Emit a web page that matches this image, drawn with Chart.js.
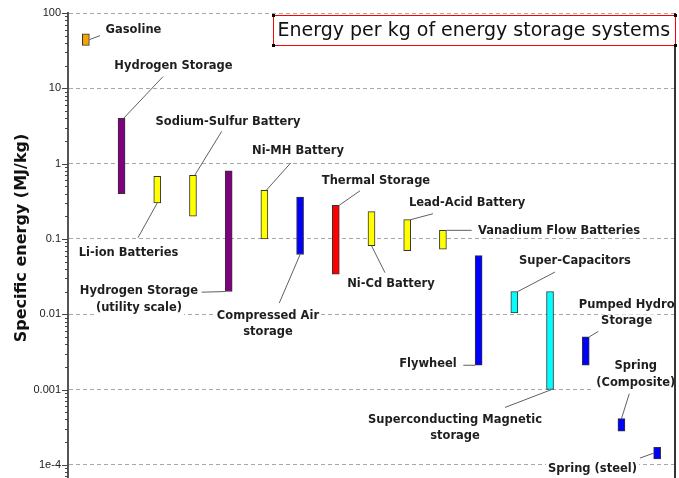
<!DOCTYPE html>
<html lang="en">

<head>
    <meta charset="UTF-8">
    <script src="https://cdn.jsdelivr.net/npm/chart.js"></script>
    <title>energia por kg</title>
    <style>
        body { margin: 0; background: #fff; }
        #grafico { width: 679px; height: 478px; }
    </style>
</head>

<body>
    <div id="grafico">
        <canvas id="myChartCanvas"></canvas>
    </div>
</body>

</html>

<script>
    // dados (MJ/kg)
    const categorias = ['Gasoline', 'Hydrogen Storage', 'Li-ion Batteries', 'Sodium-Sulfur Battery',
        'Hydrogen Storage (utility scale)', 'Ni-MH Battery', 'Compressed Air storage', 'Thermal Storage',
        'Ni-Cd Battery', 'Lead-Acid Battery', 'Vanadium Flow Batteries', 'Flywheel', 'Super-Capacitors',
        'Superconducting Magnetic storage', 'Pumped Hydro Storage', 'Spring (Composite)', 'Spring (steel)'];
    const minimos = [37, 0.4, 0.3, 0.2, 0.02, 0.1, 0.062, 0.034, 0.081, 0.07, 0.073, 0.0021, 0.0104, 0.001, 0.0021, 0.00028, 0.00012];
    const maximos = [53, 4, 0.68, 0.7, 0.8, 0.44, 0.36, 0.28, 0.23, 0.18, 0.13, 0.06, 0.02, 0.02, 0.005, 0.00041, 0.00017];
    const tickValores = [1e-4, 1e-3, 1e-2, 0.1, 1, 10, 100];
    const tickTextos = ['1e-4', '0.001', '0.01', '0.1', '1', '10', '100'];

    const cores = ['#f5a300', '#800080', '#ffff00', '#ffff00', '#800080', '#ffff00', '#0000ff', '#ff0000',
        '#ffff00', '#ffff00', '#ffff00', '#0000ff', '#00ffff', '#00ffff', '#0000ff', '#0000ff', '#0000ff'];

    // rótulos: posição em coordenadas do gráfico (índice da categoria, valor)
    const notas = [
        { texto: ['Gasoline'], pos: [1.334, 60], barra: 0, ponta: 'meio', lado: 1, fim: [0.396, 50] },
        { texto: ['Hydrogen Storage'], pos: [2.455, 19.5], barra: 1, ponta: 'max', lado: 0.6, fim: [2.161, 14.3] },
        { texto: ['Sodium-Sulfur Battery'], pos: [3.981, 3.6], barra: 3, ponta: 'max', lado: 0.5, fim: [3.805, 2.68] },
        { texto: ['Ni-MH Battery'], pos: [5.941, 1.45], barra: 5, ponta: 'max', lado: 0.5, fim: [5.737, 1.02] },
        { texto: ['Thermal Storage'], pos: [8.126, 0.593], barra: 7, ponta: 'max', lado: 1, fim: [7.678, 0.436] },
        { texto: ['Lead-Acid Battery'], pos: [10.675, 0.3], barra: 9, ponta: 'max', lado: 1, fim: [9.722, 0.216] },
        { texto: ['Vanadium Flow Batteries'], pos: [13.251, 0.1285], barra: 10, ponta: 'max', lado: 1, fim: [10.806, 0.13] },
        { texto: ['Li-ion Batteries'], pos: [1.194, 0.065], barra: 2, ponta: 'min', lado: 0, fim: [1.46, 0.1038] },
        { texto: ['Hydrogen Storage', '(utility scale)'], pos: [1.488, 0.0201], barra: 4, ponta: 'min', lado: -1, fim: [3.244, 0.0196] },
        { texto: ['Compressed Air', 'storage'], pos: [5.101, 0.00955], barra: 6, ponta: 'min', lado: 0, fim: [5.418, 0.0141] },
        { texto: ['Ni-Cd Battery'], pos: [8.546, 0.0252], barra: 8, ponta: 'min', lado: 0, fim: [8.378, 0.0356] },
        { texto: ['Super-Capacitors'], pos: [13.699, 0.0502], barra: 12, ponta: 'max', lado: 1, fim: [13.139, 0.0363] },
        { texto: ['Flywheel'], pos: [9.582, 0.00218], barra: 11, ponta: 'min', lado: -1, fim: [10.571, 0.0021] },
        { texto: ['Superconducting Magnetic', 'storage'], pos: [10.339, 0.000397], barra: 13, ponta: 'min', lado: 0.5, fim: [11.739, 0.000578] },
        { texto: ['Pumped Hydro', 'Storage'], pos: [15.147, 0.01337], barra: 14, ponta: 'max', lado: 1, fim: [14.352, 0.00591] },
        { texto: ['Spring', '(Composite)'], pos: [15.402, 0.00203], barra: 15, ponta: 'max', lado: 0, fim: [15.22, 0.000879] },
        { texto: ['Spring (steel)'], pos: [14.19, 0.0000879], barra: 16, ponta: 'meio', lado: -1, fim: [15.52, 0.000123] }
    ];

    const fonteRotulo = 'bold 11.5px "DejaVu Sans"';

    const pluginDesenhos = {
        id: 'desenhos',
        afterDraw(chart) {
            const ctx = chart.ctx;
            const area = chart.chartArea;
            const x = chart.scales.x;
            const y = chart.scales.y;
            const meta = chart.getDatasetMeta(0);

            ctx.save();

            // marcas do eixo y (maiores e menores)
            ctx.strokeStyle = '#444';
            ctx.lineWidth = 1;
            for (let e = -5; e <= 2; e++) {
                for (let m = 1; m <= 9; m++) {
                    const v = m * Math.pow(10, e);
                    if (v < y.min || v > y.max * 1.0001) continue;
                    const py = Math.round(y.getPixelForValue(v)) + 0.5;
                    const len = m === 1 ? 6 : 3;
                    ctx.beginPath();
                    ctx.moveTo(area.left - len, py);
                    ctx.lineTo(area.left, py);
                    ctx.stroke();
                }
            }

            // linhas de chamada
            ctx.strokeStyle = '#606060';
            ctx.lineWidth = 1;
            notas.forEach((n) => {
                const el = meta.data[n.barra];
                let v;
                if (n.ponta === 'max') v = maximos[n.barra];
                else if (n.ponta === 'min') v = minimos[n.barra];
                else v = Math.sqrt(minimos[n.barra] * maximos[n.barra]);
                const x1 = el.x + n.lado * el.width / 2;
                const y1 = y.getPixelForValue(v);
                const x2 = x.getPixelForValue(n.fim[0]);
                const y2 = y.getPixelForValue(n.fim[1]);
                ctx.beginPath();
                ctx.moveTo(x1, y1);
                ctx.lineTo(x2, y2);
                ctx.stroke();
            });

            // rótulos com fundo branco
            ctx.font = fonteRotulo;
            ctx.textAlign = 'center';
            ctx.textBaseline = 'middle';
            notas.forEach((n) => {
                const cx = x.getPixelForValue(n.pos[0]);
                const cy = y.getPixelForValue(n.pos[1]);
                n.texto.forEach((linha, i) => {
                    const ly = cy + i * 16.7;
                    const w = ctx.measureText(linha).width;
                    ctx.fillStyle = '#fff';
                    ctx.fillRect(cx - w / 2 - 2, ly - 7, w + 4, 14);
                    ctx.fillStyle = '#1e1e1e';
                    ctx.fillText(linha, cx, ly);
                });
            });

            // borda direita
            ctx.strokeStyle = '#333';
            ctx.lineWidth = 2;
            ctx.beginPath();
            ctx.moveTo(area.right, area.top);
            ctx.lineTo(area.right, chart.height);
            ctx.stroke();

            // caixa do título
            const titulo = 'Energy per kg of energy storage systems';
            ctx.font = '19px "DejaVu Sans"';
            const tw = ctx.measureText(titulo).width;
            const bx2 = area.right + 0.5;
            const bx1 = Math.round(bx2 - tw - 10) + 0.5;
            const by1 = area.top + 2.5;
            const by2 = area.top + 32.5;
            ctx.fillStyle = '#fff';
            ctx.fillRect(bx1, by1, bx2 - bx1, by2 - by1);
            ctx.strokeStyle = '#ff0000';
            ctx.lineWidth = 1;
            ctx.strokeRect(bx1, by1, bx2 - bx1, by2 - by1);
            ctx.fillStyle = '#111';
            ctx.textAlign = 'left';
            ctx.textBaseline = 'middle';
            ctx.fillText(titulo, bx1 + 4, (by1 + by2) / 2 + 1);
            ctx.fillStyle = '#000';
            [[bx1, by1], [bx1, by2], [bx2, by1], [bx2, by2]].forEach((p) => {
                ctx.fillRect(p[0] - 1.5, p[1] - 1.5, 3, 3);
            });

            // título do eixo y
            ctx.save();
            ctx.translate(22, 238);
            ctx.rotate(-Math.PI / 2);
            ctx.font = 'bold 16px "DejaVu Sans"';
            ctx.textAlign = 'center';
            ctx.textBaseline = 'middle';
            ctx.fillStyle = '#111';
            ctx.fillText('Specific energy (MJ/kg)', 0, 0);
            ctx.restore();

            ctx.restore();
        }
    };

    function plotarGrafico() {
        const dados = {
            labels: categorias,
            datasets: [{
                data: categorias.map((c, i) => [minimos[i], maximos[i]]),
                backgroundColor: cores,
                borderColor: '#333',
                borderWidth: 1,
                borderSkipped: false,
                barThickness: 7
            }]
        };

        const config = {
            type: 'bar',
            data: dados,
            options: {
                responsive: true,
                maintainAspectRatio: false,
                animation: false,
                layout: { padding: { top: 13, right: 4, left: 0, bottom: 0 } },
                plugins: { legend: { display: false }, tooltip: { enabled: false } },
                scales: {
                    x: { display: false, offset: true },
                    y: {
                        type: 'logarithmic',
                        min: 6.68e-5,
                        max: 100,
                        bounds: 'data',
                        afterFit: (scale) => {
                            scale.width = 68;
                            scale.paddingTop = 0;
                            scale.paddingBottom = 0;
                        },
                        afterBuildTicks: (scale) => {
                            scale.ticks = tickValores.map((v) => ({ value: v }));
                        },
                        ticks: {
                            autoSkip: false,
                            padding: 7,
                            color: '#222',
                            font: { family: 'Liberation Sans', size: 11 },
                            callback: (v) => {
                                const i = tickValores.findIndex((t) => Math.abs(t - v) / t < 1e-6);
                                return i >= 0 ? tickTextos[i] : '';
                            }
                        },
                        grid: { color: '#a8a8a8', lineWidth: 1, drawTicks: false },
                        border: { display: true, color: '#555', width: 2, dash: [4, 3] }
                    }
                }
            },
            plugins: [pluginDesenhos]
        };

        let ctx = document.getElementById('myChartCanvas').getContext('2d');
        let myChart = new Chart(ctx, config);
    }

    plotarGrafico();
</script>
